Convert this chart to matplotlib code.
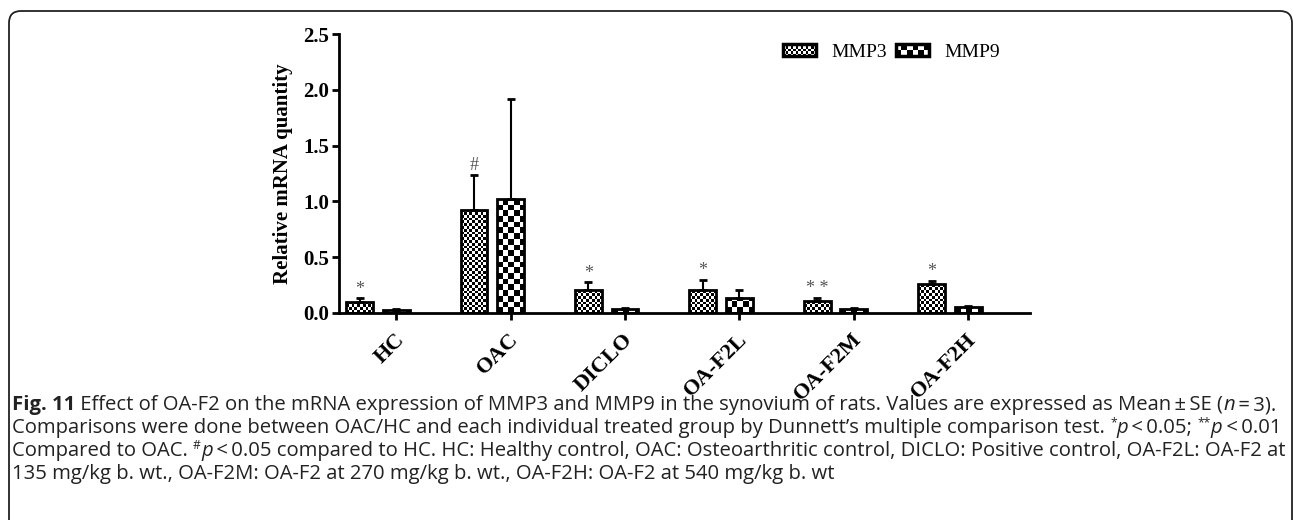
import numpy as np
import matplotlib
matplotlib.use("Agg")
import matplotlib.pyplot as plt
from matplotlib.patches import Rectangle, FancyBboxPatch
from matplotlib.legend_handler import HandlerBase
from matplotlib.transforms import ScaledTranslation

groups = ["HC", "OAC", "DICLO", "OA-F2L", "OA-F2M", "OA-F2H"]
mmp3 = [0.10, 0.92, 0.21, 0.21, 0.11, 0.26]
mmp3_se = [0.03, 0.32, 0.065, 0.09, 0.025, 0.025]
mmp9 = [0.03, 1.02, 0.035, 0.13, 0.04, 0.055]
mmp9_se = [0.004, 0.90, 0.007, 0.08, 0.006, 0.01]
marks = ["*", "#", "*", "*", "* *", "*"]
yticks = [0.0, 0.5, 1.0, 1.5, 2.0, 2.5]

caption = [
    [("Fig. 11", "bold"), (" Effect of OA-F2 on the mRNA expression of MMP3 and MMP9 in the synovium of rats. "
                           "Values are expressed as Mean\u2009\u00b1\u2009SE (", ""), ("n", "italic"), ("\u2009=\u20093).", "")],
    [("Comparisons were done between OAC/HC and each individual treated group by Dunnett\u2019s multiple comparison test. ", ""),
     ("*", "sup"), ("p", "italic"), ("\u2009<\u20090.05; ", ""), ("**", "sup"), ("p", "italic"), ("\u2009<\u20090.01", "")],
    [("Compared to OAC. ", ""), ("#", "sup"), ("p", "italic"),
     ("\u2009<\u20090.05 compared to HC. HC: Healthy control, OAC: Osteoarthritic control, DICLO: Positive control, "
      "OA-F2L: OA-F2 at", "")],
    [("135 mg/kg b. wt., OA-F2M: OA-F2 at 270 mg/kg b. wt., OA-F2H: OA-F2 at 540 mg/kg b. wt", "")],
]

W, H = 1293, 520
fig = plt.figure(figsize=(W / 100, H / 100), dpi=100)
ax = fig.add_axes([339 / W, 1 - 313 / H, 691 / W, 279 / H])

x = np.arange(len(groups))
off3 = -0.32
bw = 0.235
ax.set_xlim(-0.5, 5.54)
ax.set_ylim(0, 2.5)


def checker(ax, bar, cell_px):
    x0, y0 = bar.get_x(), bar.get_y()
    w, h = bar.get_width(), bar.get_height()
    p0 = ax.transData.transform((0, 0))
    p1 = ax.transData.transform((1, 1))
    cx = cell_px / (p1[0] - p0[0])
    cy = cell_px / (p1[1] - p0[1])
    nx = int(np.ceil(w / cx))
    ny = max(int(np.ceil(h / cy)), 1)
    img = np.add.outer(np.arange(ny), np.arange(nx)) % 2
    im = ax.imshow(img, cmap="gray", extent=(x0, x0 + nx * cx, y0, y0 + ny * cy),
                   origin="lower", interpolation="nearest", aspect="auto", zorder=1)
    im.set_clip_path(bar)


bars3 = ax.bar(x + off3, mmp3, bw, facecolor="none", edgecolor="black", linewidth=2, zorder=2)
bars9 = ax.bar(x, mmp9, bw, facecolor="none", edgecolor="black", linewidth=2, zorder=2)
for b in bars3:
    checker(ax, b, 2.8)
for b in bars9:
    checker(ax, b, 5.7)
ax.set_xlim(-0.5, 5.54)
ax.set_ylim(0, 2.5)

ax.errorbar(x + off3, mmp3, yerr=[np.zeros(len(x)), mmp3_se], fmt="none", ecolor="black",
            elinewidth=1.5, capsize=3, capthick=2, zorder=1.5)
ax.errorbar(x, mmp9, yerr=[np.zeros(len(x)), mmp9_se], fmt="none", ecolor="black",
            elinewidth=1.5, capsize=3, capthick=2, zorder=1.5)

for xi, v, e, m in zip(x + off3, mmp3, mmp3_se, marks):
    ax.annotate(m, (xi, v + e), xytext=(0, 0.5), textcoords="offset points", ha="center", va="bottom",
                color="#555555", fontsize=13, family="Liberation Serif")

for s in ["top", "right"]:
    ax.spines[s].set_visible(False)
for s in ["left", "bottom"]:
    ax.spines[s].set_linewidth(2)

ax.set_yticks(yticks)
ax.set_yticklabels([f"{t:.1f}" for t in yticks], fontsize=15, fontweight="bold", family="Liberation Serif")
ax.tick_params(axis="y", length=5, width=2, pad=2)
ax.set_xticks(x)
ax.set_xticklabels(groups, rotation=45, ha="right", va="center", rotation_mode="anchor",
                   fontsize=16, fontweight="bold", family="Liberation Serif")
ax.tick_params(axis="x", length=5, width=2, pad=12)
for lbl in ax.get_xticklabels():
    lbl.set_transform(lbl.get_transform() + ScaledTranslation(5 / 100, 0, fig.dpi_scale_trans))

ax.set_ylabel("Relative mRNA quantity", fontsize=15, fontweight="bold", family="Liberation Serif")
ax.yaxis.set_label_coords(-0.066, 0.5)


class CheckerHandler(HandlerBase):
    def __init__(self, cell):
        super().__init__()
        self.cell = cell

    def create_artists(self, legend, orig_handle, xdescent, ydescent, width, height, fontsize, trans):
        arts = []
        nx = max(int(round(width / self.cell)), 1)
        ny = max(int(round(height / self.cell)), 1)
        cw, ch = width / nx, height / ny
        for i in range(nx):
            for j in range(ny):
                if (i + j) % 2 == 0:
                    arts.append(Rectangle((-xdescent + i * cw, -ydescent + j * ch), cw, ch,
                                          facecolor="black", edgecolor="none", transform=trans))
        arts.append(Rectangle((-xdescent, -ydescent), width, height, facecolor="none",
                              edgecolor="black", linewidth=2.5, transform=trans))
        return arts


h3 = Rectangle((0, 0), 1, 1)
h9 = Rectangle((0, 0), 1, 1)
leg = fig.legend([h3, h9], ["MMP3", "MMP9"], handler_map={h3: CheckerHandler(1.8), h9: CheckerHandler(4.0)},
                 loc="upper left", bbox_to_anchor=(783 / W, 1 - 44 / H), ncol=2, frameon=False,
                 prop={"family": "Liberation Serif", "size": 14}, handlelength=1.7, handleheight=0.6,
                 handletextpad=0.8, columnspacing=0.45, borderpad=0, borderaxespad=0)

# rounded frame around the panel
frame = FancyBboxPatch((0.09, -0.3), 12.83, 5.09 + 0.3, boxstyle="round,pad=0,rounding_size=0.12",
                       transform=fig.dpi_scale_trans, facecolor="none", edgecolor="#222222",
                       linewidth=1.3, clip_on=False)
fig.patches.append(frame)

arts_info = []


def draw_caption(size):
    arts = []
    y0 = 1 - 410 / H
    for k, line in enumerate(caption):
        prev = None
        for txt, sty in line:
            kw = dict(family="Open Sans", fontsize=size, color="#222222")
            dy = 0
            if sty == "bold":
                kw["fontweight"] = "bold"
            elif sty == "italic":
                kw["style"] = "italic"
            elif sty == "sup":
                kw["fontsize"] = size * 0.6
                dy = size * 0.45
            if prev is None:
                t = fig.text(12 / W, y0 - k * 23 / H, txt, ha="left", va="baseline", **kw)
            else:
                t = fig.text(0, 0, txt, ha="left", va="baseline", **kw)
                arts_info.append((t, prev, dy))
            arts.append(t)
            prev = t
    return arts


def place_chain(renderer):
    # put each segment right after the previous one, on the same baseline
    for t, prev, dy in arts_info:
        bb = prev.get_window_extent(renderer)
        px, py = prev.get_transform().transform(prev.get_position())
        py -= getattr(prev, "_dy", 0)
        t._dy = dy
        t.set_position(fig.transFigure.inverted().transform((bb.x1, py + dy)))


cap_size = 10.5
cap = draw_caption(cap_size)
renderer = fig.canvas.get_renderer()
place_chain(renderer)
line1 = [a for a in cap if abs(a.get_position()[1] - cap[0].get_position()[1]) < 0.02]
w1 = max(a.get_window_extent(renderer).x1 for a in line1) - 12
scale = 1272 / w1
for a in cap:
    a.remove()
arts_info = []
cap = draw_caption(cap_size * scale)
place_chain(renderer)

fig.savefig("out.png", dpi=100)
